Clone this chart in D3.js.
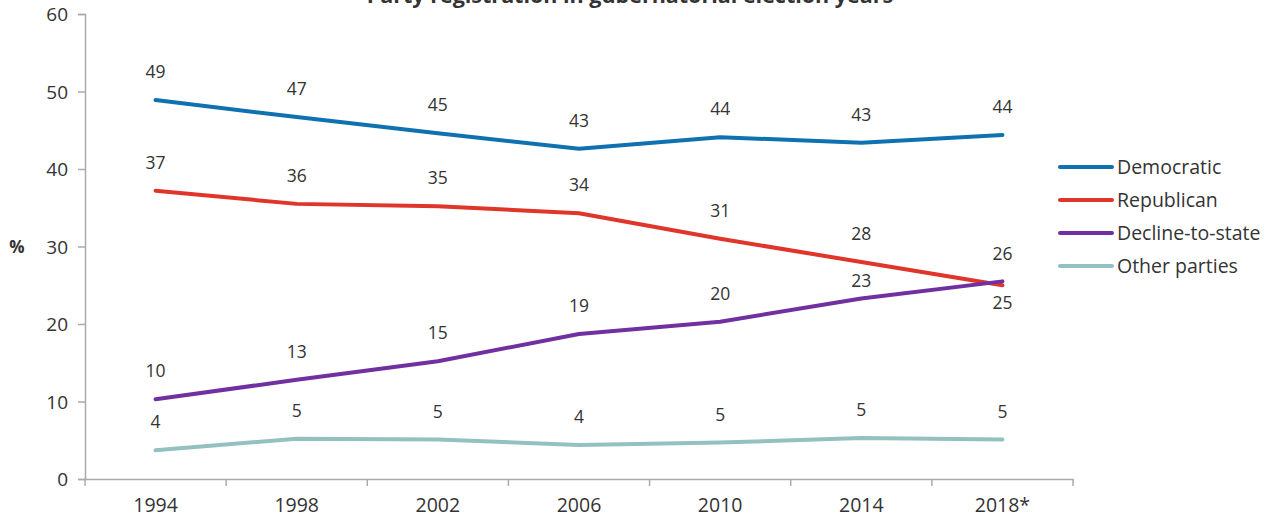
<!DOCTYPE html>
<html><head><meta charset="utf-8">
<script src="https://cdn.jsdelivr.net/npm/d3@7"></script>
<style>
body{margin:0;background:#fff;}
text{font-family:"Open Sans",Lato,sans-serif;fill:#333;}
</style></head>
<body><svg id="c" width="1276" height="517"></svg>
<script>
const years = ["1994","1998","2002","2006","2010","2014","2018*"];
const democratic = [48.9, 46.7, 44.6, 42.6, 44.1, 43.4, 44.4];
const republican = [37.2, 35.5, 35.2, 34.3, 31.0, 28.0, 25.0];
const declineToState = [10.3, 12.8, 15.2, 18.7, 20.3, 23.3, 25.5];
const otherParties = [3.7, 5.2, 5.1, 4.4, 4.7, 5.3, 5.1];
const seriesNames = ["Democratic","Republican","Decline-to-state","Other parties"];
const seriesColors = ["#0f71b0","#e0352b","#7030a0","#93c1bf"];
const yTicks = [0,10,20,30,40,50,60];
const title = "Party registration in gubernatorial election years";

const series = [democratic, republican, declineToState, otherParties];
const svg = d3.select("#c");
const x = d3.scaleBand().domain(years).range([85,1073]);
const y = d3.scaleLinear().domain([0,60]).range([479,14]);

// title
svg.append("text").attr("x",630).attr("y",3).attr("text-anchor","middle")
  .style("font-size","21.5px").style("font-weight","bold").text(title);

// y axis
const ya = svg.append("g").attr("transform","translate(85,0)")
  .call(d3.axisLeft(y).tickValues(yTicks).tickSize(7).tickPadding(10));
ya.select(".domain").attr("stroke","#aaa").attr("stroke-width",1.5);
ya.selectAll(".tick line").attr("stroke","#aaa").attr("stroke-width",1.5);
ya.selectAll(".tick text").style("font-size","19px").style("fill","#333").style("font-family","'Open Sans',sans-serif").attr("dy","0.35em");

// x axis
const xa = svg.append("g").attr("transform","translate(0,479)")
  .call(d3.axisBottom(x).tickSize(0).tickPadding(18));
xa.select(".domain").attr("stroke","#aaa").attr("stroke-width",1.5);
xa.selectAll(".tick text").style("font-size","19.5px").style("fill","#333").style("font-family","'Open Sans',sans-serif").attr("dy","0.75em");
const bounds = years.map(d=>x(d)).concat([x(years[years.length-1])+x.bandwidth()]);
svg.append("g").selectAll("line").data(bounds).join("line")
  .attr("x1",d=>d).attr("x2",d=>d).attr("y1",479).attr("y2",486)
  .attr("stroke","#aaa").attr("stroke-width",1.5);

svg.append("text").attr("x",17).attr("y",247).attr("dy","0.35em").attr("text-anchor","middle")
  .style("font-size","17px").style("font-weight","bold").text("%");

const cx = d => x(d)+x.bandwidth()/2;
const line = d3.line().x((d,i)=>cx(years[i])).y(d=>y(d));
series.forEach((s,k)=>{
  svg.append("path").datum(s).attr("d",line).attr("fill","none")
    .attr("stroke",seriesColors[k]).attr("stroke-width",4).attr("stroke-linejoin","round").attr("stroke-linecap","round");
});
// labels
function labelOffset(k,i){
  if (k===1 && i===years.length-1) return 18;
  if (k===2 && i===5) return -18;
  return -28;
}
series.forEach((s,k)=>{
  svg.append("g").selectAll("text").data(s).join("text")
    .attr("x",(d,i)=>cx(years[i]))
    .attr("y",(d,i)=> y(d)+labelOffset(k,i))
    .attr("dy","0.35em").attr("text-anchor","middle")
    .style("font-size","17.5px").text(d=>Math.round(d));
});

// legend
const lg = svg.append("g");
seriesNames.forEach((n,k)=>{
  const yy = 167 + k*33;
  lg.append("line").attr("x1",1060).attr("x2",1112).attr("y1",yy).attr("y2",yy)
    .attr("stroke",seriesColors[k]).attr("stroke-width",4).attr("stroke-linecap","round");
  lg.append("text").attr("x",1117).attr("y",yy).attr("dy","0.35em").style("font-size","19.5px").text(n);
});
</script></body></html>
